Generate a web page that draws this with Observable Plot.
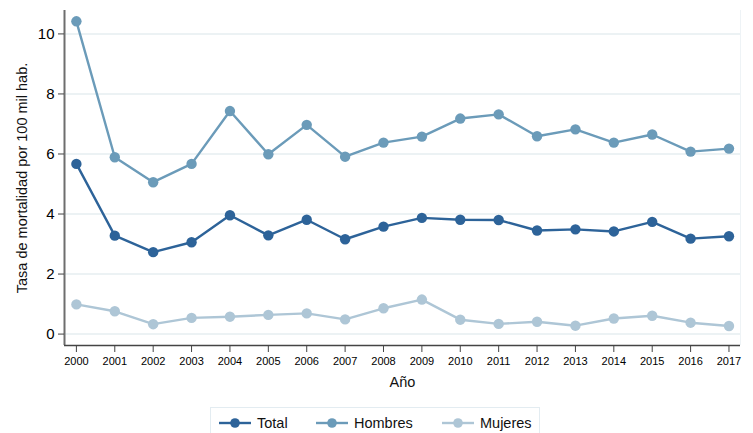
<!DOCTYPE html>
<html>
<head>
<meta charset="utf-8">
<script src="https://cdn.jsdelivr.net/npm/d3@7"></script>
<script src="https://cdn.jsdelivr.net/npm/@observablehq/plot@0.6"></script>
<style>
  html, body { margin: 0; padding: 0; background: #fff; }
  body { width: 753px; height: 433px; overflow: hidden; position: relative; font-family: "Liberation Sans", Arial, sans-serif; }
  #legend { position: absolute; left: 210px; top: 407px; width: 330px; height: 40px; border: 1px solid #e3ecf1; box-sizing: border-box; }
  .item { position: absolute; top: 7px; font-size: 14.5px; color: #111; display: flex; align-items: center; }
  .item svg { margin-right: 6px; }
</style>
</head>
<body>
<div id="chart"></div>
<div id="legend"></div>
<script>
const years = [2000,2001,2002,2003,2004,2005,2006,2007,2008,2009,2010,2011,2012,2013,2014,2015,2016,2017];
const total =   [5.67,3.28,2.73,3.06,3.96,3.29,3.81,3.16,3.58,3.87,3.81,3.80,3.45,3.49,3.42,3.74,3.18,3.26];
const hombres = [10.42,5.89,5.06,5.67,7.43,5.99,6.97,5.91,6.38,6.58,7.18,7.32,6.59,6.82,6.38,6.65,6.08,6.18];
const mujeres = [0.99,0.76,0.33,0.54,0.58,0.64,0.69,0.49,0.86,1.15,0.48,0.34,0.41,0.28,0.52,0.61,0.38,0.27];
const seriesNames = ["Total", "Hombres", "Mujeres"];
const seriesColors = ["#2d6399", "#6b9bb9", "#aec6d6"];
const yTicks = [0, 2, 4, 6, 8, 10];

const data = [];
[total, hombres, mujeres].forEach((vals, s) => {
  years.forEach((yr, i) => data.push({ year: yr, value: vals[i], serie: seriesNames[s] }));
});

const xDom = [1999.69, 2017.3];
const yDom = [-0.38, 10.78];

const chart = Plot.plot({
  width: 753,
  height: 400,
  marginLeft: 64,
  marginRight: 13,
  marginTop: 10,
  marginBottom: 55,
  style: { fontFamily: "Liberation Sans, Arial, sans-serif", background: "#fff", overflow: "visible" },
  x: { domain: xDom, label: null },
  y: { domain: yDom, label: null },
  color: { domain: seriesNames, range: seriesColors },
  marks: [
    Plot.ruleY(yTicks, { stroke: "#e6eef1", strokeWidth: 1.5 }),
    Plot.ruleX([xDom[1]], { stroke: "#eef3f6", strokeWidth: 1 }),
    Plot.ruleX([xDom[0]], { stroke: "#6e6e6e", strokeWidth: 2 }),
    Plot.ruleY([yDom[0]], { stroke: "#444", strokeWidth: 1.5 }),
    Plot.axisY({ ticks: yTicks, tickSize: 6, tickPadding: 4, fontSize: 15, stroke: "#444", label: null, tickFormat: d => String(d) }),
    Plot.axisX({ ticks: years, tickSize: 7, tickPadding: 5, fontSize: 11, stroke: "#444", tickFormat: d => String(d), label: null }),
    Plot.text(["Año"], { frameAnchor: "bottom", lineAnchor: "middle", textAnchor: "middle", dy: 37, fontSize: 14.5, fill: "#111" }),
    Plot.text(["Tasa de mortalidad por 100 mil hab."], { frameAnchor: "left", lineAnchor: "middle", textAnchor: "middle", dx: -42, rotate: -90, fontSize: 14.5, fill: "#111" }),
    Plot.line(data, { x: "year", y: "value", stroke: "serie", z: "serie", strokeWidth: 2.4 }),
    Plot.dot(data, { x: "year", y: "value", fill: "serie", r: 5.2 })
  ]
});
document.getElementById("chart").appendChild(chart);

const legend = document.getElementById("legend");
const lefts = [8, 105, 231];
seriesNames.forEach((name, i) => {
  const div = document.createElement("div");
  div.className = "item";
  div.style.left = lefts[i] + "px";
  div.innerHTML = `<svg width="32" height="12"><line x1="0" x2="32" y1="6" y2="6" stroke="${seriesColors[i]}" stroke-width="2.4"/><circle cx="16" cy="6" r="4.8" fill="${seriesColors[i]}"/></svg>${name}`;
  legend.appendChild(div);
});
</script>
</body>
</html>
